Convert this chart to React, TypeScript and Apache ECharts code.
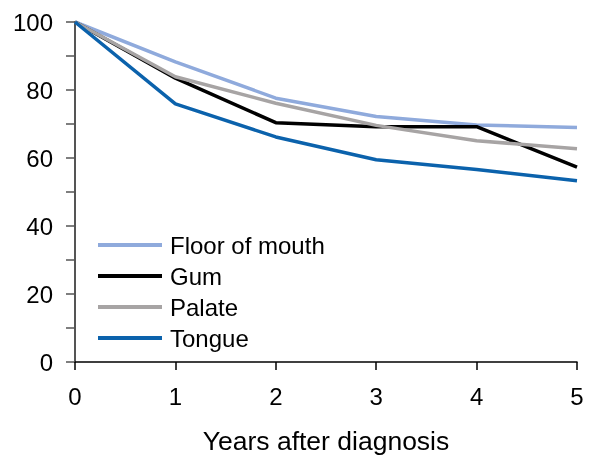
import React, { useEffect, useRef } from "react";
import * as echarts from "echarts";

const years = [0, 1, 2, 3, 4, 5];
const floorOfMouth = [100, 88.3, 77.6, 72.2, 69.7, 69.0];
const gum = [100, 83.5, 70.4, 69.2, 69.2, 57.3];
const palate = [100, 83.9, 76.1, 69.6, 65.1, 62.7];
const tongue = [100, 75.9, 66.2, 59.5, 56.6, 53.3];

const seriesNames = ["Floor of mouth", "Gum", "Palate", "Tongue"];
const seriesColors = ["#8FAADC", "#000000", "#A7A4A4", "#0B62AC"];
const seriesValues = [floorOfMouth, gum, palate, tongue];

const FONT = "'Liberation Sans', Arial, Helvetica, sans-serif";

export default function App() {
  const ref = useRef<HTMLDivElement>(null);

  useEffect(() => {
    if (!ref.current) return;
    const chart = echarts.init(ref.current, null, { renderer: "svg" });
    chart.setOption({
      animation: false,
      grid: { left: 75, right: 18, top: 22, bottom: 96, containLabel: false },
      legend: {
        orient: "vertical",
        left: 93,
        top: 228,
        itemWidth: 64,
        itemHeight: 4,
        itemGap: 7,
        icon: "rect",
        data: seriesNames,
        textStyle: { fontFamily: FONT, fontSize: 24, color: "#000", padding: [0, 0, 0, 3] },
      },
      xAxis: {
        type: "value",
        min: 0,
        max: 5,
        interval: 1,
        name: "Years after diagnosis",
        nameLocation: "middle",
        nameGap: 65,
        nameTextStyle: { fontFamily: FONT, fontSize: 26.5, color: "#000" },
        axisLine: { show: true, lineStyle: { color: "#000", width: 1.5 } },
        axisTick: { show: true, length: 8, lineStyle: { color: "#000", width: 1.5 } },
        axisLabel: { fontFamily: FONT, fontSize: 24, color: "#000", margin: 22 },
        splitLine: { show: false },
      },
      yAxis: {
        type: "value",
        min: 0,
        max: 100,
        interval: 20,
        axisLine: { show: true, onZero: false, lineStyle: { color: "#555", width: 2 } },
        axisTick: { show: true, length: 9, lineStyle: { color: "#555", width: 1.5 } },
        minorTick: { show: true, splitNumber: 2, length: 9, lineStyle: { color: "#555", width: 1.5 } },
        axisLabel: { fontFamily: FONT, fontSize: 24, color: "#000", margin: 22 },
        splitLine: { show: false },
      },
      series: seriesNames.map((name, i) => ({
        name,
        type: "line",
        data: years.map((x, j) => [x, seriesValues[i][j]]),
        showSymbol: false,
        symbol: "none",
        color: seriesColors[i],
        lineStyle: { color: seriesColors[i], width: 3.5 },
      })),
    });
    return () => chart.dispose();
  }, []);

  return (
    <div
      ref={ref}
      style={{ position: "fixed", left: 0, top: 0, width: 595, height: 459 }}
    />
  );
}
